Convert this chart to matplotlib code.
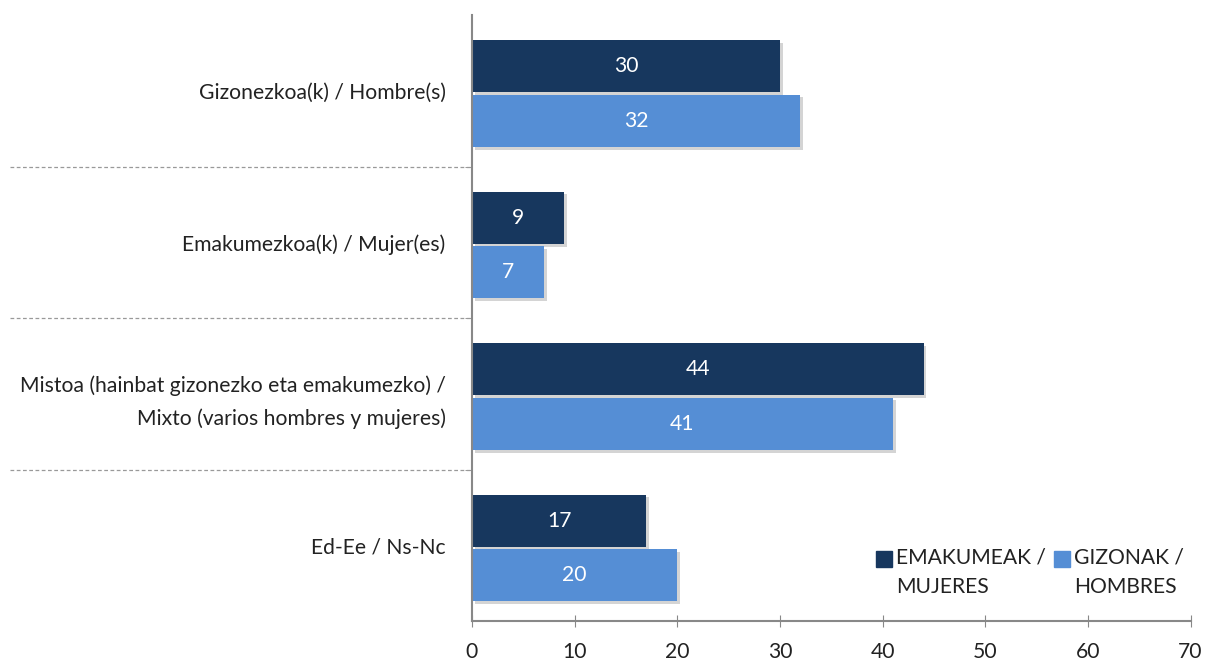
import matplotlib.pyplot as plt
import matplotlib.transforms as mtransforms
import matplotlib.patheffects as pe
from matplotlib.patches import Rectangle
import numpy as np

categories = ['Gizonezkoa(k) / Hombre(s)',
              'Emakumezkoa(k) / Mujer(es)',
              'Mistoa (hainbat gizonezko eta emakumezko) /\nMixto (varios hombres y mujeres)',
              'Ed-Ee / Ns-Nc']
women = [30, 9, 44, 17]
men = [32, 7, 41, 20]
series_names = ['EMAKUMEAK /\nMUJERES', 'GIZONAK /\nHOMBRES']
xticks = [0, 10, 20, 30, 40, 50, 60, 70]

plt.rcParams['font.family'] = ['Lato', 'DejaVu Sans']

dark = '#17375e'
light = '#558ed5'
txt = '#222222'
fs = 15.2

fig = plt.figure(figsize=(12.09, 6.62), dpi=100)
ax = fig.add_axes([0.3904, 0.0619, 0.5943, 0.9154])

y = np.arange(len(categories))
h = 0.345
shadow = [pe.SimplePatchShadow(offset=(2, -2), shadow_rgbFace='#aaaaaa', alpha=0.5), pe.Normal()]
b1 = ax.barh(y - 0.162, women, height=h, color=dark)
b2 = ax.barh(y + 0.198, men, height=h, color=light)
for bars in (b1, b2):
    for p in bars:
        p.set_path_effects(shadow)

for bars, vals in ((b1, women), (b2, men)):
    for p, v in zip(bars, vals):
        ax.text(v / 2, p.get_y() + p.get_height() / 2, str(v), color='white',
                ha='center', va='center', fontsize=fs)

ax.set_xlim(0, 70)
ax.set_ylim(3.5, -0.5)
ax.set_xticks(xticks)
ax.set_yticks(y)
ax.set_yticklabels(categories, fontsize=fs, color=txt, linespacing=1.75)
ax.tick_params(axis='y', length=0, pad=19)
ax.tick_params(axis='x', direction='inout', length=8, color='#888888',
               labelsize=fs, labelcolor=txt, pad=11)
ax.set_yticks([0.5, 1.5, 2.5], minor=True)
ax.tick_params(axis='y', which='minor', length=5, color='#888888')

for s in ('top', 'right'):
    ax.spines[s].set_visible(False)
for s in ('left', 'bottom'):
    ax.spines[s].set_color('#888888')
    ax.spines[s].set_linewidth(1.5)

# dashed separators running across the label area
trans = mtransforms.blended_transform_factory(fig.transFigure, ax.transData)
for yy in [0.5, 1.5, 2.5]:
    ax.plot([10 / 1209, 0.3904], [yy, yy], transform=trans, color='#999999',
            linestyle=(0, (3, 2)), linewidth=0.9, clip_on=False)

# legend drawn by hand so the swatch sits on the first text line
W, H = 1209, 662
for name, col, x0 in ((series_names[0], dark, 876), (series_names[1], light, 1054)):
    fig.patches.append(Rectangle((x0 / W, 1 - 567 / H), 16 / W, 16 / H,
                                 transform=fig.transFigure, color=col))
    fig.text((x0 + 20) / W, 1 - 548 / H, name, fontsize=fs, color=txt,
             va='top', ha='left', linespacing=1.55)

fig.savefig('out.png', dpi=100)
